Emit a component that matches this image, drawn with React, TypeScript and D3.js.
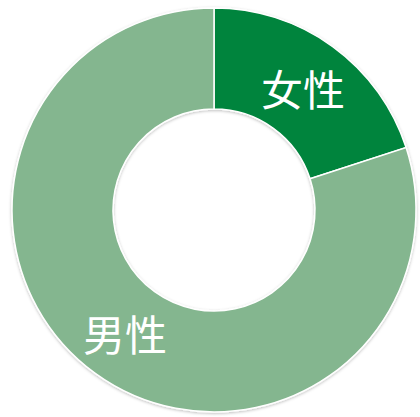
import React from "react";
import * as d3 from "d3";

const categories = ["女性", "男性"];
const values = [20, 80];
const colors = ["#00843D", "#84B68F"];

const W = 420;
const H = 417;
const cx = 214;
const cy = 210;
const outerR = 202;
const innerR = 101;

export default function App() {
  const pie = d3.pie<number>().sort(null).value((d) => d)(values);
  const arc = d3.arc<d3.PieArcDatum<number>>().innerRadius(innerR).outerRadius(outerR);
  return (
    <svg
      width={W}
      height={H}
      style={{ position: "absolute", left: 0, top: 0, background: "#fff" }}
    >
      <defs>
        <filter id="sh" x="-10%" y="-10%" width="120%" height="120%">
          <feDropShadow dx="0" dy="1" stdDeviation="1.5" floodColor="#000" floodOpacity="0.25" />
        </filter>
      </defs>
      <g transform={`translate(${cx},${cy})`}>
        <g filter="url(#sh)">
          {pie.map((p, i) => (
            <path key={i} d={arc(p) || ""} fill={colors[i]} stroke="#fff" strokeWidth={1.5} />
          ))}
        </g>
        {pie.map((p, i) => {
          const [x, y] = arc.centroid(p);
          return (
            <text
              key={"t" + i}
              x={x}
              y={y}
              textAnchor="middle"
              dominantBaseline="central"
              fill="#fff"
              fontSize={42}
              fontFamily="'Noto Sans CJK SC', sans-serif"
            >
              {categories[i]}
            </text>
          );
        })}
      </g>
    </svg>
  );
}
